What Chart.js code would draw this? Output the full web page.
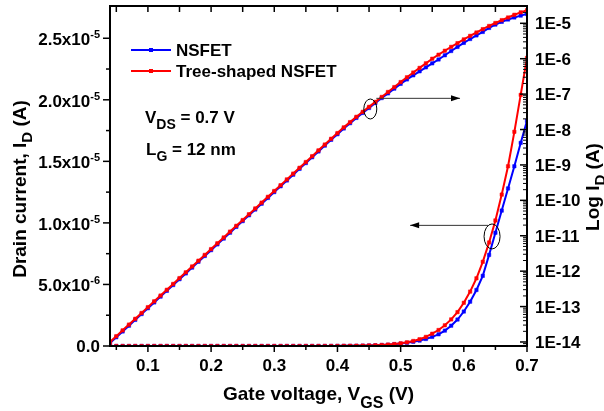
<!DOCTYPE html>
<html>
<head>
<meta charset="utf-8">
<script src="https://cdn.jsdelivr.net/npm/chart.js@4.4.1/dist/chart.umd.min.js"></script>
<style>
  html, body { margin: 0; padding: 0; background: #fff; }
  #wrap { width: 604px; height: 411px; }
</style>
</head>
<body>
<div id="wrap"><canvas id="chart" width="604" height="411"></canvas></div>
<script>
// gate voltage, V
const vgs = [
  0.04, 0.05, 0.06, 0.07, 0.08, 0.09, 0.10, 0.11, 0.12, 0.13,
  0.14, 0.15, 0.16, 0.17, 0.18, 0.19, 0.20, 0.21, 0.22, 0.23,
  0.24, 0.25, 0.26, 0.27, 0.28, 0.29, 0.30, 0.31, 0.32, 0.33,
  0.34, 0.35, 0.36, 0.37, 0.38, 0.39, 0.40, 0.41, 0.42, 0.43,
  0.44, 0.45, 0.46, 0.47, 0.48, 0.49, 0.50, 0.51, 0.52, 0.53,
  0.54, 0.55, 0.56, 0.57, 0.58, 0.59, 0.60, 0.61, 0.62, 0.63,
  0.64, 0.65, 0.66, 0.67, 0.68, 0.69, 0.70
];

// drain current, A (drawn on the linear left axis and on the log right axis)
const treeId = [
  1.00e-14, 1.46e-14, 2.13e-14, 3.10e-14, 4.53e-14, 6.61e-14, 9.64e-14, 1.41e-13, 2.05e-13, 2.99e-13,
  4.37e-13, 6.37e-13, 9.29e-13, 1.36e-12, 1.98e-12, 2.88e-12, 4.21e-12, 6.14e-12, 8.95e-12, 1.31e-11,
  1.91e-11, 2.78e-11, 4.06e-11, 5.92e-11, 8.63e-11, 1.26e-10, 1.84e-10, 2.68e-10, 3.91e-10, 5.70e-10,
  8.32e-10, 1.21e-9, 1.77e-9, 2.58e-9, 3.77e-9, 5.50e-9, 7.94e-9, 1.15e-8, 1.62e-8, 2.29e-8,
  3.16e-8, 4.37e-8, 6.03e-8, 8.32e-8, 1.15e-7, 1.58e-7, 2.19e-7, 2.99e-7, 4.07e-7, 5.50e-7,
  7.41e-7, 1.00e-6, 1.30e-6, 1.68e-6, 2.16e-6, 2.75e-6, 3.51e-6, 4.42e-6, 5.50e-6, 6.84e-6,
  8.41e-6, 1.02e-5, 1.23e-5, 1.46e-5, 1.74e-5, 2.04e-5, 2.34e-5
];
const nsId = [
  0.93e-14, 1.36e-14, 1.98e-14, 2.88e-14, 4.21e-14, 6.15e-14, 8.97e-14, 1.31e-13, 1.91e-13, 2.78e-13,
  4.06e-13, 5.92e-13, 8.64e-13, 1.26e-12, 1.84e-12, 2.68e-12, 3.92e-12, 5.71e-12, 8.32e-12, 1.22e-11,
  1.78e-11, 2.59e-11, 3.78e-11, 5.51e-11, 8.03e-11, 1.17e-10, 1.71e-10, 2.49e-10, 3.64e-10, 5.30e-10,
  7.74e-10, 1.13e-9, 1.65e-9, 2.40e-9, 3.51e-9, 5.12e-9, 7.38e-9, 1.07e-8, 1.51e-8, 2.13e-8,
  2.94e-8, 4.06e-8, 5.61e-8, 7.74e-8, 1.05e-7, 1.43e-7, 1.95e-7, 2.60e-7, 3.40e-7, 4.40e-7,
  5.70e-7, 7.40e-7, 9.50e-7, 1.25e-6, 1.65e-6, 2.15e-6, 2.80e-6, 3.60e-6, 4.55e-6, 5.70e-6,
  7.40e-6, 9.20e-6, 1.10e-5, 1.28e-5, 1.46e-5, 1.65e-5, 1.83e-5
];

// ticks
const xTicks = [0.1, 0.2, 0.3, 0.4, 0.5, 0.6, 0.7];
const xTickLabels = ['0.1', '0.2', '0.3', '0.4', '0.5', '0.6', '0.7'];
const xMinor = [0.05, 0.15, 0.25, 0.35, 0.45, 0.55, 0.65];
const leftTicks = [0, 5e-6, 1e-5, 1.5e-5, 2e-5, 2.5e-5];
const leftTickLabels = ['0.0', '5.0x10', '1.0x10', '1.5x10', '2.0x10', '2.5x10'];
const leftTickExps = ['', '-6', '-5', '-5', '-5', '-5'];
const leftMinor = [2.5e-6, 7.5e-6, 1.25e-5, 1.75e-5, 2.25e-5];
const rightTicks = [1e-14, 1e-13, 1e-12, 1e-11, 1e-10, 1e-9, 1e-8, 1e-7, 1e-6, 1e-5];
const rightTickLabels = ['1E-14', '1E-13', '1E-12', '1E-11', '1E-10', '1E-9', '1E-8', '1E-7', '1E-6', '1E-5'];

const RED = '#ff0000';
const BLUE = '#0000ff';
const FONT = '"Liberation Sans", Arial, sans-serif';

function toPts(ys) {
  return vgs.map((v, i) => ({ x: v, y: ys[i] }));
}

function series(label, ys, axis, color) {
  return {
    label: label,
    data: toPts(ys),
    yAxisID: axis,
    borderColor: color,
    backgroundColor: color,
    borderWidth: 2,
    pointStyle: 'rect',
    pointRadius: 2.4,
    pointBorderWidth: 0.5,
    pointBackgroundColor: color,
    pointBorderColor: color,
    tension: 0,
  };
}

// text with sub/superscripts: parts = [text, size, dy]
function rich(ctx, parts, x, y, align) {
  let w = 0;
  parts.forEach(p => {
    ctx.font = `bold ${p[1]}px ${FONT}`;
    w += ctx.measureText(p[0]).width;
  });
  let cx = x;
  if (align === 'center') cx = x - w / 2;
  if (align === 'right') cx = x - w;
  ctx.textAlign = 'left';
  ctx.textBaseline = 'alphabetic';
  parts.forEach(p => {
    ctx.font = `bold ${p[1]}px ${FONT}`;
    ctx.fillText(p[0], cx, y + p[2]);
    cx += ctx.measureText(p[0]).width;
  });
}

function arrow(ctx, x1, y1, x2, y2) {
  ctx.beginPath();
  ctx.moveTo(x1, y1);
  ctx.lineTo(x2, y2);
  ctx.stroke();
  const dir = Math.sign(x2 - x1);
  ctx.beginPath();
  ctx.moveTo(x2, y2);
  ctx.lineTo(x2 - dir * 9, y2 - 3);
  ctx.lineTo(x2 - dir * 9, y2 + 3);
  ctx.closePath();
  ctx.fill();
}

const decor = {
  id: 'decor',
  afterDatasetsDraw(chart) {
    const { ctx, chartArea: a, scales } = chart;
    const sx = scales.x, sl = scales.y, sr = scales.y2;
    ctx.save();
    ctx.strokeStyle = '#000';
    ctx.fillStyle = '#000';

    // frame
    ctx.lineWidth = 2;
    ctx.strokeRect(a.left, a.top, a.right - a.left, a.bottom - a.top);

    const tick = (x1, y1, x2, y2) => {
      ctx.beginPath();
      ctx.moveTo(x1, y1);
      ctx.lineTo(x2, y2);
      ctx.stroke();
    };
    ctx.lineWidth = 1.5;

    // x ticks: outward at bottom, inward at top
    xTicks.forEach(v => {
      const p = sx.getPixelForValue(v);
      tick(p, a.bottom, p, a.bottom + 6);
      tick(p, a.top, p, a.top + 6);
    });
    xMinor.forEach(v => {
      const p = sx.getPixelForValue(v);
      tick(p, a.bottom, p, a.bottom + 4);
      tick(p, a.top, p, a.top + 6);
    });

    // left ticks (outward)
    leftTicks.forEach(v => {
      const p = sl.getPixelForValue(v);
      tick(a.left - 7, p, a.left, p);
    });
    leftMinor.forEach(v => {
      const p = sl.getPixelForValue(v);
      tick(a.left - 4, p, a.left, p);
    });

    // right ticks (inward), with minor decades
    rightTicks.forEach(v => {
      const p = sr.getPixelForValue(v);
      tick(a.right - 7, p, a.right, p);
    });
    ctx.lineWidth = 1;
    for (let e = -15; e <= -5; e++) {
      for (let m = 2; m <= 9; m++) {
        const v = m * Math.pow(10, e);
        if (v < sr.min || v > sr.max) continue;
        const p = sr.getPixelForValue(v);
        tick(a.right - 4, p, a.right, p);
      }
    }

    // tick labels
    ctx.fillStyle = '#000';
    xTicks.forEach((v, i) => {
      rich(ctx, [[xTickLabels[i], 17, 0]], sx.getPixelForValue(v), 371, 'center');
    });
    leftTicks.forEach((v, i) => {
      const p = sl.getPixelForValue(v);
      if (leftTickExps[i]) {
        rich(ctx, [[leftTickLabels[i], 17, 0], [leftTickExps[i], 11, -7]], 100, p + 7, 'right');
      } else {
        rich(ctx, [[leftTickLabels[i], 17, 0]], 100, p + 6, 'right');
      }
    });
    rightTicks.forEach((v, i) => {
      rich(ctx, [[rightTickLabels[i], 17, 0]], 535, sr.getPixelForValue(v) + 6, 'left');
    });

    // axis titles
    rich(ctx, [['Gate voltage, V', 19, 0], ['GS', 16, 8], [' (V)', 19, 0]],
      (a.left + a.right) / 2, 400, 'center');
    ctx.save();
    ctx.translate(26, 189);
    ctx.rotate(-Math.PI / 2);
    rich(ctx, [['Drain current, I', 19, 0], ['D', 15, 6], [' (A)', 19, 0]], 0, 0, 'center');
    ctx.restore();
    ctx.save();
    ctx.translate(599, 187);
    ctx.rotate(-Math.PI / 2);
    rich(ctx, [['Log I', 19, 0], ['D', 15, 6], [' (A)', 19, 0]], 0, 0, 'center');
    ctx.restore();

    // legend
    const legend = [['NSFET', BLUE, 50], ['Tree-shaped NSFET', RED, 71]];
    legend.forEach(([name, color, y]) => {
      ctx.strokeStyle = color;
      ctx.fillStyle = color;
      ctx.lineWidth = 2;
      tick(131, y, 171, y);
      ctx.fillRect(149, y - 2, 4, 4);
      ctx.fillStyle = '#000';
      rich(ctx, [[name, 17, 0]], 176, y + 6, 'left');
    });

    // conditions
    rich(ctx, [['V', 17, 0], ['DS', 14, 6], [' = 0.7 V', 17, 0]], 145, 123, 'left');
    rich(ctx, [['L', 17, 0], ['G', 14, 6], [' = 12 nm', 17, 0]], 146, 155, 'left');

    // ellipses and arrows
    ctx.strokeStyle = '#000';
    ctx.fillStyle = '#000';
    ctx.lineWidth = 1;
    const e1x = sx.getPixelForValue(0.452), e1y = sr.getPixelForValue(3.8e-8);
    ctx.beginPath();
    ctx.ellipse(e1x, e1y, 6.5, 10, 0, 0, Math.PI * 2);
    ctx.stroke();
    ctx.strokeStyle = '#333';
    arrow(ctx, e1x + 6, sr.getPixelForValue(7.6e-8), sx.getPixelForValue(0.594), sr.getPixelForValue(7.6e-8));

    ctx.strokeStyle = '#000';
    const e2x = sx.getPixelForValue(0.6447), e2y = sl.getPixelForValue(8.9e-6);
    ctx.beginPath();
    ctx.ellipse(e2x, e2y, 8, 12.5, 0, 0, Math.PI * 2);
    ctx.stroke();
    ctx.strokeStyle = '#333';
    arrow(ctx, e2x - 4, sl.getPixelForValue(9.8e-6), sx.getPixelForValue(0.515), sl.getPixelForValue(9.8e-6));

    ctx.restore();
  }
};

const hiddenScale = {
  grid: { display: false },
  border: { display: false },
  ticks: { display: false },
};

new Chart(document.getElementById('chart'), {
  type: 'line',
  data: {
    datasets: [
      series('Tree-shaped NSFET', treeId, 'y', RED),
      series('Tree-shaped NSFET', treeId, 'y2', RED),
      series('NSFET', nsId, 'y', BLUE),
      series('NSFET', nsId, 'y2', BLUE),
    ]
  },
  options: {
    responsive: false,
    devicePixelRatio: 1,
    animation: false,
    layout: { padding: { top: 6, left: 0, right: 0, bottom: 0 } },
    plugins: {
      legend: { display: false },
      tooltip: { enabled: false },
    },
    scales: {
      x: Object.assign({ type: 'linear', min: 0.04, max: 0.7,
        afterFit(s) { s.height = 65; } }, hiddenScale),
      y: Object.assign({ type: 'linear', position: 'left', min: 0, max: 2.762e-5,
        afterFit(s) { s.width = 110; } }, hiddenScale),
      y2: Object.assign({ type: 'logarithmic', position: 'right', min: 7.7e-15, max: 3.08e-5,
        afterFit(s) { s.width = 77; } }, hiddenScale),
    }
  },
  plugins: [decor]
});
</script>
</body>
</html>
